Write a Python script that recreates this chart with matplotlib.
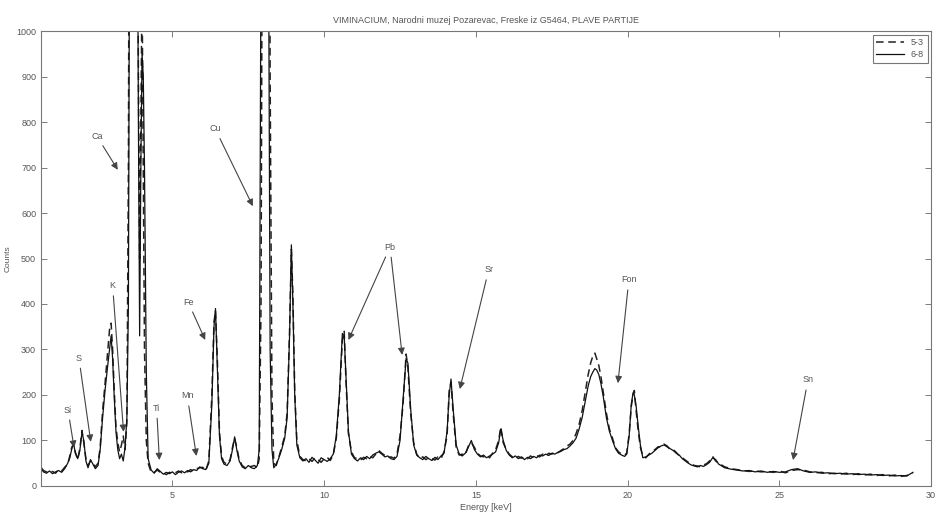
import numpy as np
import matplotlib
matplotlib.use("Agg")
import matplotlib.pyplot as plt

# spectrum, energy in keV
energy = [
    0.68, 0.75, 0.85, 0.95, 1.05, 1.15, 1.25, 1.35, 1.45,
    1.55, 1.62, 1.68, 1.74, 1.8, 1.88, 1.95, 2.02, 2.08, 2.15, 2.22, 2.3, 2.38, 2.46, 2.55,
    2.62, 2.7, 2.78, 2.86, 2.93, 2.98, 3.03, 3.08, 3.14, 3.2, 3.26, 3.32, 3.38, 3.44,
    3.5, 3.55, 3.6, 3.7, 3.8, 3.88, 3.92, 3.96, 4.0, 4.04, 4.08, 4.14, 4.2, 4.3,
    4.4, 4.5, 4.6, 4.7, 4.8, 4.9, 5.0, 5.1, 5.2, 5.3, 5.4, 5.5, 5.6, 5.7, 5.8, 5.9, 6.0, 6.1, 6.2,
    6.3, 6.37, 6.42, 6.48, 6.55, 6.62, 6.7, 6.8, 6.9, 6.98, 7.05, 7.12, 7.2, 7.3, 7.4, 7.5, 7.6, 7.7, 7.8,
    7.86, 7.92, 7.97, 8.05, 8.15, 8.22, 8.28, 8.34, 8.42, 8.5, 8.6, 8.7, 8.78, 8.86, 8.92, 8.97, 9.03, 9.1, 9.2,
    9.3, 9.4, 9.5, 9.6, 9.7, 9.8, 9.9, 10.0, 10.1, 10.2, 10.3,
    10.4, 10.5, 10.6, 10.66, 10.72, 10.8, 10.9, 11.0,
    11.1, 11.2, 11.3, 11.4, 11.5, 11.6, 11.7, 11.8, 11.9, 12.0, 12.1, 12.2, 12.3, 12.4,
    12.5, 12.6, 12.7, 12.76, 12.85, 12.95, 13.05,
    13.15, 13.25, 13.35, 13.45, 13.55, 13.65, 13.75, 13.85, 13.95,
    14.05, 14.12, 14.18, 14.25, 14.35, 14.45, 14.55, 14.65, 14.75, 14.85, 14.95, 15.05,
    15.15, 15.25, 15.35, 15.45, 15.55, 15.65, 15.75, 15.82, 15.9, 16.0, 16.1,
    16.2, 16.3, 16.4, 16.5, 16.6, 16.7, 16.8, 16.9, 17.0, 17.1, 17.2, 17.3, 17.4, 17.5, 17.6, 17.7, 17.8, 17.9,
    18.0, 18.1, 18.2, 18.3, 18.4, 18.5, 18.6, 18.7, 18.78, 18.85, 18.92, 18.98, 19.05, 19.12,
    19.2, 19.3, 19.4, 19.5, 19.6, 19.7, 19.8, 19.9, 19.97,
    20.05, 20.12, 20.18, 20.22, 20.28, 20.35, 20.42, 20.5, 20.6, 20.7, 20.8, 20.9, 21.0,
    21.1, 21.2, 21.3, 21.4, 21.5, 21.6, 21.7, 21.8, 21.9, 22.0, 22.1, 22.2, 22.3, 22.4, 22.5,
    22.6, 22.7, 22.8, 22.9, 23.0,
    23.2, 23.4, 23.6, 23.8, 24.0, 24.2, 24.4, 24.6, 24.8, 25.0, 25.2, 25.4, 25.6, 25.8, 26.0, 26.2,
    26.4, 26.6, 26.8, 27.0, 27.2, 27.4, 27.6, 27.8, 28.0, 28.2, 28.4, 28.6, 28.8, 29.0, 29.2, 29.4,
]

counts_68 = [
    38, 31, 28, 33, 27, 31, 34, 30, 38,
    50, 62, 80, 96, 72, 60, 78, 118, 100, 55, 40, 58, 48, 38, 45,
    80, 150, 210, 260, 300, 330, 280, 200, 120, 80, 60, 70, 55, 85,
    150, 400, 1500, 3000, 2000, 800, 330, 700, 950, 900, 700, 250, 60, 35,
    28, 38, 32, 26, 30, 27, 31, 25, 30, 33, 29, 34, 31, 36, 34, 42, 38, 36, 50,
    180, 350, 390, 260, 110, 60, 48, 45, 55, 80, 108, 80, 55, 42, 38, 45, 40, 38, 45,
    80, 1200, 3000, 3500, 1500, 300, 80, 40, 48, 60, 80, 105, 150, 330, 530, 400, 200, 90, 62,
    55, 60, 52, 63, 57, 50, 62, 58, 54, 60, 70,
    110, 200, 335, 330, 240, 120, 70, 60,
    55, 62, 58, 65, 60, 68, 72, 75, 70, 64, 66, 60, 58, 65,
    100, 190, 280, 270, 170, 90, 68,
    62, 58, 65, 60, 56, 63, 58, 66, 72,
    120, 200, 235, 170, 90, 70, 66, 72, 85, 100, 80, 70,
    64, 68, 62, 66, 70, 75, 95, 125, 100, 78, 68,
    62, 66, 60, 64, 58, 63, 60, 65, 62, 68, 66, 70, 67, 72, 70, 74, 76, 80,
    82, 88, 95, 105, 125, 150, 185, 220, 240, 250, 258, 255, 245, 225,
    195, 150, 120, 100, 82, 72, 68, 65, 70,
    110, 180, 205, 200, 175, 130, 90, 62, 64, 68, 72, 78, 84,
    88, 90, 86, 82, 78, 72, 68, 60, 55, 50, 46, 44, 42, 45, 43,
    47, 52, 62, 58, 48,
    40, 37, 35, 33, 34, 31, 33, 30, 32, 30, 31, 36, 38, 33, 30, 31,
    28, 29, 27, 28, 26, 27, 25, 26, 24, 25, 23, 24, 22, 23, 22, 30,
]

counts_53 = [
    40, 34, 31, 29, 32, 28, 36, 33, 41,
    48, 66, 84, 92, 75, 58, 82, 122, 96, 60, 45, 55, 52, 42, 50,
    85, 165, 225, 290, 345, 358, 300, 215, 130, 95, 75, 90, 110, 80,
    140, 700, 2000, 3000, 2000, 900, 500, 800, 1100, 700, 300, 100, 50, 30,
    30, 35, 30, 28, 25, 30, 28, 29, 33, 29, 32, 31, 36, 33, 38, 40, 41, 34, 55,
    200, 360, 385, 280, 120, 65, 52, 48, 58, 85, 105, 85, 58, 45, 40, 42, 43, 45, 40,
    60, 400, 1500, 3500, 2500, 900, 200, 50, 45, 62, 85, 110, 160, 340, 520, 420, 210, 100, 65,
    58, 55, 60, 54, 62, 58, 52, 60, 63, 56, 68,
    105, 190, 320, 340, 230, 115, 75, 62,
    60, 57, 63, 60, 66, 62, 70, 78, 72, 67, 62, 64, 61, 70,
    110, 180, 290, 260, 160, 95, 70,
    60, 64, 58, 62, 60, 57, 64, 60, 75,
    110, 210, 228, 160, 85, 68, 70, 68, 88, 95, 85, 72,
    66, 64, 67, 62, 72, 80, 100, 130, 95, 80, 70,
    64, 60, 65, 61, 64, 60, 66, 62, 67, 64, 70, 66, 72, 70, 75, 73, 78, 82,
    88, 92, 100, 115, 135, 165, 205, 245, 270, 285, 292, 280, 265, 240,
    205, 160, 125, 105, 84, 75, 70, 68, 72,
    115, 175, 200, 210, 165, 120, 85, 65, 62, 70, 75, 80, 86,
    86, 92, 88, 80, 80, 74, 66, 62, 57, 52, 48, 45, 44, 42, 46,
    49, 55, 65, 55, 50,
    42, 38, 36, 34, 32, 33, 31, 32, 30, 33, 29, 34, 36, 35, 31, 29,
    30, 27, 28, 26, 28, 25, 27, 24, 26, 23, 25, 22, 24, 21, 23, 28,
]

# element labels: (label, text position, arrow tips) in data units
labels = ["Si", "S", "K", "Ca", "Ti", "Mn", "Fe", "Cu", "Pb", "Sr", "Fon", "Sn"]
label_pos = [(1.56, 167), (1.92, 281), (3.03, 440), (2.51, 769), (4.48, 171), (5.49, 198),
             (5.52, 404), (6.41, 785), (12.17, 525), (15.42, 475), (20.04, 453), (25.94, 233)]
arrow_tips = [[(1.76, 84)], [(2.31, 97)], [(3.39, 119)], [(3.20, 695)], [(4.57, 57)], [(5.79, 66)],
              [(6.08, 321)], [(7.65, 615)], [(10.80, 321), (12.57, 288)], [(14.47, 213)],
              [(19.68, 226)], [(25.45, 57)]]

plt.rcParams['font.family'] = ['Liberation Sans', 'DejaVu Sans']
txt = '#555555'

fig = plt.figure(figsize=(9.36, 5.17), dpi=100)
ax = fig.add_axes([0.0438, 0.06, 0.951, 0.88])

ax.plot(energy, counts_53, color='#222222', lw=1.1, ls=(0, (5, 3)), label='5-3')
ax.plot(energy, counts_68, color='#111111', lw=0.9, label='6-8')

for lab, pos, tips in zip(labels, label_pos, arrow_tips):
    ax.text(pos[0], pos[1], lab, ha='center', va='center', fontsize=6.5, color=txt)
    for tip in tips:
        # text drawn once above, the annotation only draws the arrow
        ax.annotate(lab, xy=tip, xytext=pos, ha='center', va='center', fontsize=6.5,
                    color=(0, 0, 0, 0),
                    arrowprops=dict(arrowstyle='-|>', color='#444444', lw=0.8,
                                    mutation_scale=10, shrinkA=2, shrinkB=0))

ax.set_xlim(0.67, 30)
ax.set_ylim(0, 1000)
ax.set_xticks([5, 10, 15, 20, 25, 30])
ax.set_yticks(np.arange(0, 1001, 100))
ax.tick_params(direction='in', top=True, right=True, length=4, width=0.6,
               labelsize=6.5, labelcolor=txt, color='#666666')
for sp in ax.spines.values():
    sp.set_color('#777777')
    sp.set_linewidth(0.8)

ax.set_title('VIMINACIUM, Narodni muzej Pozarevac, Freske iz G5464, PLAVE PARTIJE',
             fontsize=6.5, color=txt, pad=6)
ax.set_xlabel('Energy [keV]', fontsize=6.5, color=txt, labelpad=2)
ax.set_ylabel('Counts', fontsize=6, color=txt, labelpad=3)

leg = ax.legend(loc='upper right', fontsize=6.5, handlelength=3, frameon=True,
                fancybox=False, borderpad=0.4, labelspacing=0.3, borderaxespad=0.4)
leg.get_frame().set_edgecolor('#555555')
leg.get_frame().set_linewidth(0.8)
for t in leg.get_texts():
    t.set_color(txt)

fig.savefig('out.png', dpi=100)
